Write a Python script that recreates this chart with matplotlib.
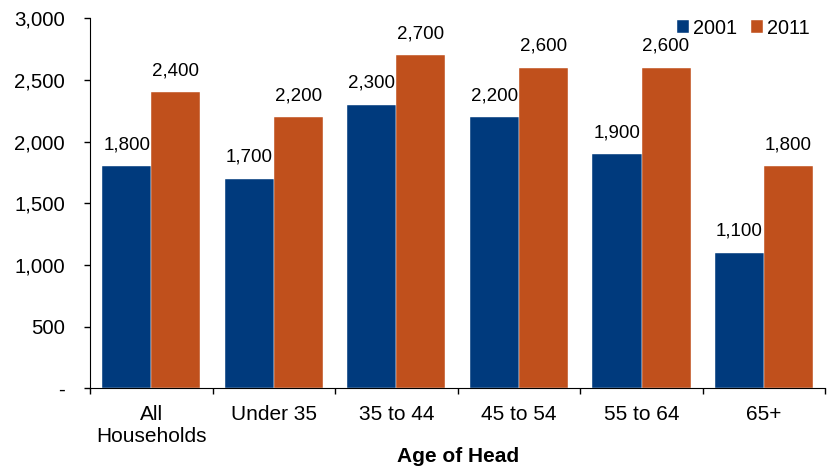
import numpy as np
import matplotlib
matplotlib.use("Agg")
import matplotlib.pyplot as plt
from matplotlib.ticker import FuncFormatter

# data
groups = ["All\nHouseholds", "Under 35", "35 to 44", "45 to 54", "55 to 64", "65+"]
v2001 = [1800, 1700, 2300, 2200, 1900, 1100]
v2011 = [2400, 2200, 2700, 2600, 2600, 1800]
years = ["2001", "2011"]

blue = "#003A7D"
orange = "#C0501C"

plt.rcParams['font.family'] = ['Liberation Sans', 'DejaVu Sans']

fig = plt.figure(figsize=(8.3, 4.66), dpi=100)
ax = fig.add_axes([0.1084, 0.167, 0.886, 0.794])

x = np.arange(len(groups))
w = 0.4
b1 = ax.bar(x - w / 2, v2001, w, color=blue, label=years[0], edgecolor="white", linewidth=0.3)
b2 = ax.bar(x + w / 2, v2011, w, color=orange, label=years[1], edgecolor="white", linewidth=0.3)

for bars, vals in [(b1, v2001), (b2, v2011)]:
    for r, v in zip(bars, vals):
        ax.annotate(f"{v:,}", (r.get_x() + r.get_width() / 2, v), xytext=(0, 12),
                    textcoords="offset points", ha="center", va="baseline", fontsize=13.5)

ax.set_xlim(-0.5, len(groups) - 0.5)
ax.set_ylim(0, 3000)
ax.set_yticks(np.arange(0, 3001, 500))
ax.yaxis.set_major_formatter(FuncFormatter(lambda v, p: "-" if v == 0 else f"{int(v):,}"))
ax.tick_params(axis="y", direction="out", length=4, width=1, pad=14, labelsize=14.7)

ax.set_xticks(x)
ax.set_xticklabels(groups)
ax.set_xticks(np.arange(-0.5, len(groups), 1), minor=True)
ax.tick_params(axis="x", which="major", length=0, pad=12, labelsize=15)
ax.tick_params(axis="x", which="minor", direction="out", length=4.5, width=1)
ax.set_xlabel("Age of Head", fontweight="bold", fontsize=15, labelpad=1)

ax.spines["top"].set_visible(False)
ax.spines["right"].set_visible(False)

ax.legend(loc="upper right", bbox_to_anchor=(0.99, 1.02), ncol=2, frameon=False,
          handlelength=0.6, handleheight=0.6, handletextpad=0.2, columnspacing=0.7,
          borderaxespad=0, fontsize=14.3)

fig.savefig("out.png", dpi=100)
